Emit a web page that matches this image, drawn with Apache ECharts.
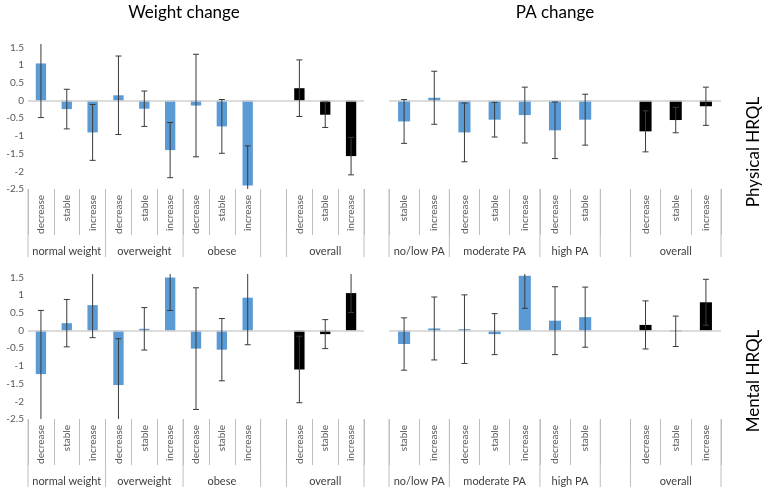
<!DOCTYPE html>
<html>
<head>
<meta charset="utf-8">
<script src="https://cdn.jsdelivr.net/npm/echarts@6/dist/echarts.min.js"></script>
<style>html,body{margin:0;padding:0;background:#fff;}#c{width:763px;height:488px;}</style>
</head>
<body>
<div id="c"></div>
<script>
// ---- data ----
const weightCats = ['decrease','stable','increase','decrease','stable','increase','decrease','stable','increase','','decrease','stable','increase'];
const weightGroups = ['normal weight','overweight','obese','','overall'];
const weightGroupSizes = [3,3,3,1,3];
const paCats = ['stable','increase','decrease','stable','increase','decrease','stable','','decrease','stable','increase'];
const paGroups = ['no/low PA','moderate PA','high PA','','overall'];
const paGroupSizes = [2,3,2,1,3];

const weightPhys    = [1.05,-0.24,-0.90,0.15,-0.23,-1.40,-0.14,-0.73,-2.40,null,0.35,-0.40,-1.57];
const weightPhysErr = [1.53,0.56,0.79,1.11,0.50,0.78,1.45,0.76,1.12,null,0.80,0.36,0.53];
const paPhys        = [-0.59,0.08,-0.90,-0.54,-0.41,-0.84,-0.54,null,-0.87,-0.55,-0.16];
const paPhysErr     = [0.62,0.75,0.83,0.49,0.79,0.80,0.72,null,0.58,0.36,0.54];
const weightMent    = [-1.23,0.21,0.72,-1.54,0.05,1.50,-0.51,-0.54,0.93,null,-1.10,-0.10,1.06];
const weightMentErr = [1.80,0.67,0.92,1.31,0.60,0.93,1.72,0.88,1.33,null,0.94,0.41,0.55];
const paMent        = [-0.38,0.06,0.04,-0.10,1.55,0.28,0.38,null,0.16,-0.02,0.80];
const paMentErr     = [0.74,0.89,0.97,0.58,0.92,0.96,0.85,null,0.68,0.43,0.65];

const yTicks = {min:-2.5, max:1.6, interval:0.5};
const colTitles = ['Weight change','PA change'];
const rowTitles = ['Physical HRQL','Mental HRQL'];

// ---- styles ----
const FONT = 'Lato, "Open Sans", sans-serif';
const BLUE = '#5B9BD5', BLACK = '#000000';
const grids = [
  {left:28, top:44, width:336, height:145},
  {left:389, top:44, width:332, height:145},
  {left:28, top:274, width:336, height:145},
  {left:389, top:274, width:332, height:145}
];
const panels = [
  {cats:weightCats, groups:weightGroups, sizes:weightGroupSizes, vals:weightPhys, errs:weightPhysErr, labels:true},
  {cats:paCats, groups:paGroups, sizes:paGroupSizes, vals:paPhys, errs:paPhysErr, labels:false},
  {cats:weightCats, groups:weightGroups, sizes:weightGroupSizes, vals:weightMent, errs:weightMentErr, labels:true},
  {cats:paCats, groups:paGroups, sizes:paGroupSizes, vals:paMent, errs:paMentErr, labels:false}
];

function groupOf(p, idx){
  let s = 0;
  for (let g = 0; g < p.sizes.length; g++){ if (idx < s + p.sizes[g]) return p.groups[g]; s += p.sizes[g]; }
  return '';
}

const xAxis = [], yAxis = [], series = [];
panels.forEach((p, i) => {
  xAxis.push({
    type:'category', gridIndex:i, data:p.cats, position:'bottom',
    axisLine:{show:false, onZero:false},
    axisTick:{show:true, interval:0, length:46, lineStyle:{color:'#bfbfbf', width:1}},
    axisLabel:{interval:0, rotate:90, margin:6, fontSize:10, fontFamily:FONT, color:'#595959'}
  });
  yAxis.push({
    type:'value', gridIndex:i, min:yTicks.min, max:yTicks.max, interval:yTicks.interval,
    axisLine:{show:false}, axisTick:{show:false}, splitLine:{show:false},
    axisLabel:{show:p.labels, showMaxLabel:false, margin:4, fontSize:10, fontFamily:FONT, color:'#595959',
      formatter:v => String(v)}
  });
  series.push({
    type:'bar', xAxisIndex:i, yAxisIndex:i, barWidth:'40%',
    data:p.vals.map((v, k) => ({value:v, itemStyle:{color: groupOf(p,k)==='overall' ? BLACK : BLUE}})),
    markLine:{silent:true, symbol:'none', label:{show:false},
      lineStyle:{color:'#d0d0d0', type:'solid', width:1.5}, data:[{yAxis:0}]}
  });
  // error bars
  series.push({
    type:'custom', xAxisIndex:i, yAxisIndex:i, clip:false, z:5,
    encode:{x:0, y:[1,2]},
    data:p.vals.map((v,k) => v === null ? [k, null, null] : [k, v - p.errs[k], v + p.errs[k]]),
    renderItem:(params, api) => {
      const k = api.value(0), lo = api.value(1), hi = api.value(2);
      if (isNaN(lo) || isNaN(hi)) return null;
      const clo = Math.max(lo, yTicks.min), chi = Math.min(hi, yTicks.max);
      const a = api.coord([k, chi]), b = api.coord([k, clo]);
      const st = {stroke:'#3a3a3a', lineWidth:1};
      const ch = [{type:'line', shape:{x1:a[0], y1:a[1], x2:b[0], y2:b[1]}, style:st}];
      if (chi === hi) ch.push({type:'line', shape:{x1:a[0]-3, y1:a[1], x2:a[0]+3, y2:a[1]}, style:st});
      if (clo === lo) ch.push({type:'line', shape:{x1:b[0]-3, y1:b[1], x2:b[0]+3, y2:b[1]}, style:st});
      return {type:'group', children:ch};
    }
  });
  // group labels and full dividers
  const starts = []; let s = 0;
  p.sizes.forEach(n => { starts.push([s, yTicks.min, n]); s += n; });
  series.push({
    type:'custom', xAxisIndex:i, yAxisIndex:i, clip:false, silent:true,
    encode:{x:0, y:1},
    data:starts,
    renderItem:(params, api) => {
      const st = api.value(0), n = api.value(2), gi = params.dataIndex;
      const c = api.coord([st, yTicks.min]);
      const band = api.size([1, 0])[0];
      const left = c[0] - band/2, right = left + band*n, y0 = c[1];
      const ls = {stroke:'#bfbfbf', lineWidth:1};
      const ch = [{type:'line', shape:{x1:left, y1:y0, x2:left, y2:y0+68}, style:ls}];
      if (gi === p.groups.length - 1) ch.push({type:'line', shape:{x1:right, y1:y0, x2:right, y2:y0+68}, style:ls});
      if (p.groups[gi]) ch.push({type:'text', style:{text:p.groups[gi], x:(left+right)/2, y:y0+62,
        textAlign:'center', textVerticalAlign:'middle', font:'11px ' + FONT, fill:'#404040'}});
      return {type:'group', children:ch};
    }
  });
});

const graphic = [
  {type:'text', x:184, y:13, style:{text:colTitles[0], textAlign:'center', textVerticalAlign:'middle', font:'17px ' + FONT, fill:'#000'}},
  {type:'text', x:555, y:13, style:{text:colTitles[1], textAlign:'center', textVerticalAlign:'middle', font:'17px ' + FONT, fill:'#000'}},
  {type:'text', x:754, y:152, rotation:Math.PI/2, style:{text:rowTitles[0], textAlign:'center', textVerticalAlign:'middle', font:'17px ' + FONT, fill:'#000'}},
  {type:'text', x:754, y:381, rotation:Math.PI/2, style:{text:rowTitles[1], textAlign:'center', textVerticalAlign:'middle', font:'17px ' + FONT, fill:'#000'}}
];

const chart = echarts.init(document.getElementById('c'), null, {renderer:'canvas'});
chart.setOption({animation:false, backgroundColor:'#fff', grid:grids, xAxis, yAxis, series, graphic});
</script>
</body>
</html>
